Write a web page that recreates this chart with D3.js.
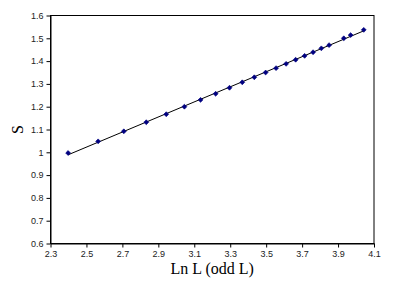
<!DOCTYPE html>
<html><head><meta charset="utf-8">
<script src="https://cdn.jsdelivr.net/npm/d3@7"></script>
<style>body{margin:0;background:#fff}</style>
</head><body>
<svg id="c" width="409" height="284"></svg>
<script>
const lnL = [2.398, 2.565, 2.708, 2.833, 2.944, 3.045, 3.135, 3.219, 3.296, 3.367, 3.434, 3.497, 3.555, 3.611, 3.664, 3.714, 3.761, 3.807, 3.850, 3.932, 3.970, 4.043];
const S =   [0.997, 1.048, 1.092, 1.132, 1.167, 1.200, 1.230, 1.257, 1.283, 1.307, 1.329, 1.350, 1.369, 1.388, 1.406, 1.423, 1.439, 1.456, 1.470, 1.500, 1.514, 1.537];
const xTicks = [2.3, 2.5, 2.7, 2.9, 3.1, 3.3, 3.5, 3.7, 3.9, 4.1];
const yTicks = [0.6, 0.7, 0.8, 0.9, 1.0, 1.1, 1.2, 1.3, 1.4, 1.5, 1.6];
const xTitle = "Ln L (odd L)";
const yTitle = "S";

const svg = d3.select("#c");
const L = 50.5, R = 374, T = 15.5, B = 243.5;
const x = d3.scaleLinear().domain([2.3, 4.1]).range([L, R]);
const y = d3.scaleLinear().domain([0.6, 1.6]).range([B, T]);

svg.append("rect").attr("x", L).attr("y", T).attr("width", R - L).attr("height", B - T)
  .attr("fill", "none").attr("stroke", "#000").attr("stroke-width", 1);

const fmt = d => (d === 1 ? "1" : d3.format(".1f")(d));
const ax = svg.append("g").attr("transform", `translate(0,${B})`)
  .call(d3.axisBottom(x).tickValues(xTicks).tickFormat(fmt).tickSize(4).tickSizeOuter(0).tickPadding(3));
const ay = svg.append("g").attr("transform", `translate(${L},0)`)
  .call(d3.axisLeft(y).tickValues(yTicks).tickFormat(fmt).tickSize(4).tickSizeOuter(0).tickPadding(3));
[ax, ay].forEach(g => {
  g.select(".domain").attr("stroke", "#000");
  g.selectAll(".tick line").attr("stroke", "#000");
  g.selectAll(".tick text").attr("font-family", "Liberation Sans, Arial, sans-serif")
    .attr("font-size", 9).attr("fill", "#222");
});

// linear trendline (least squares) over the data range
const n = lnL.length;
const mx = d3.mean(lnL), my = d3.mean(S);
let sxy = 0, sxx = 0;
for (let i = 0; i < n; i++) { sxy += (lnL[i] - mx) * (S[i] - my); sxx += (lnL[i] - mx) ** 2; }
const b = sxy / sxx, a = my - b * mx;
const x0 = d3.min(lnL), x1 = d3.max(lnL);
svg.append("line").attr("x1", x(x0)).attr("y1", y(a + b * x0)).attr("x2", x(x1)).attr("y2", y(a + b * x1))
  .attr("stroke", "#000").attr("stroke-width", 1);

svg.append("g").selectAll("path").data(d3.range(n)).join("path")
  .attr("transform", i => `translate(${x(lnL[i])},${y(S[i])}) rotate(45)`)
  .attr("d", d3.symbol().type(d3.symbolSquare).size(12))
  .attr("fill", "#000080").attr("stroke", "#000080").attr("stroke-width", 0.6);

svg.append("text").attr("x", (L + R) / 2).attr("y", 274).attr("text-anchor", "middle")
  .attr("font-family", "Liberation Serif, Times New Roman, serif").attr("font-size", 16).attr("fill", "#000")
  .text(xTitle);
svg.append("text").attr("transform", `translate(23,${(T + B) / 2}) rotate(-90)`).attr("text-anchor", "middle")
  .attr("font-family", "Liberation Serif, Times New Roman, serif").attr("font-size", 16).attr("fill", "#000")
  .text(yTitle);
</script>
</body></html>
